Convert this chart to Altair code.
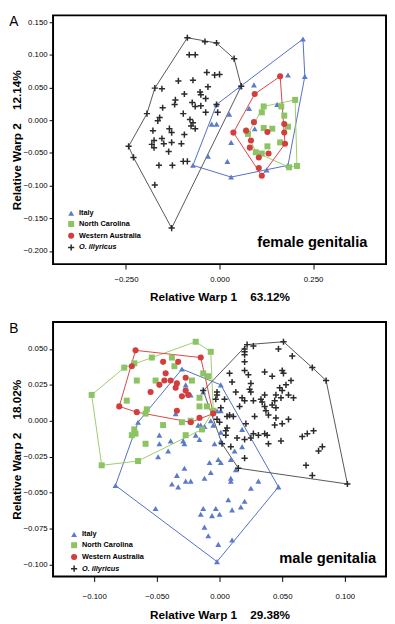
import altair as alt
import pandas as pd

GROUPS = ["Italy", "North Carolina", "Western Australia", "O. illyricus"]
FILLS = ["#5b7bc8", "#8cc463", "#d43d3d", "#2b2b2b"]
HULL_COLORS = ["#4f6fc2", "#9ccd6b", "#d9453f", "#555555"]
CROSS = "M-1,-0.24H-0.24V-1H0.24V-0.24H1V0.24H0.24V1H-0.24V0.24H-1Z"
SHAPES = ["triangle-up", "square", "circle", CROSS]
SIZES = [36, 40, 44, 50]
FONT = "Liberation Sans"

# ---------------- Panel A (female genitalia) ----------------
A_italy_x = [0.223, 0.183, 0.228, 0.092, 0.055, 0.079, 0.154, -0.008, 0.026, -0.021,
             -0.008, 0.094, 0.031, -0.031, 0.021, -0.071, 0.031, 0.126, 0.183]
A_italy_y = [0.124, 0.069, 0.067, 0.054, 0.051, 0.018, 0.024, 0.024, 0.009, -0.006,
             -0.006, -0.013, -0.034, -0.055, -0.063, -0.069, -0.087, -0.076, -0.069]
A_italy_hull = [0, 7, 15, 16, 18, 2, 0]

A_nc_x = [0.202, 0.118, 0.113, 0.165, 0.173, 0.183, 0.076, 0.118, 0.141, 0.162,
          0.128, 0.097, 0.113, 0.186, 0.207]
A_nc_y = [0.031, 0.021, 0.012, 0.021, 0.007, -0.010, -0.021, -0.012, -0.013, -0.034,
          -0.040, -0.049, -0.051, -0.072, -0.070]
A_nc_hull = [1, 0, 14, 13, 11, 6, 1]

A_wa_x = [0.162, 0.094, 0.037, 0.092, 0.071, 0.084, 0.081, 0.128, 0.173, 0.173,
          0.175, 0.105, 0.131, 0.105, 0.113]
A_wa_y = [0.067, 0.040, -0.019, -0.003, -0.016, -0.031, -0.042, -0.018, -0.006, -0.019,
          -0.036, -0.057, -0.051, -0.073, -0.085]
A_wa_hull = [0, 10, 14, 2, 1, 0]

A_ill_x = [-0.086, -0.039, -0.008, 0.039, -0.081, -0.065, -0.034, -0.013, 0.000, -0.110,
           -0.071, -0.173, -0.154, -0.031, -0.052, -0.050, -0.094, -0.118, -0.120, -0.152,
           -0.037, -0.073, -0.065, -0.050, -0.037, -0.008, -0.005, -0.194, -0.160, -0.165,
           -0.097, -0.079, -0.071, -0.076, -0.065, -0.178, -0.134, -0.128, -0.094, -0.154,
           -0.175, -0.181, -0.175, -0.149, -0.128, -0.102, -0.136, -0.243, -0.230, -0.162,
           -0.126, -0.097, -0.086, -0.173, -0.128, 0.058]
A_ill_y = [0.126, 0.120, 0.118, 0.094, 0.100, 0.100, 0.073, 0.069, 0.070, 0.060,
           0.061, 0.049, 0.048, 0.051, 0.043, 0.039, 0.040, 0.031, 0.024, 0.019,
           0.033, 0.027, 0.021, 0.022, 0.012, 0.024, 0.012, 0.010, 0.004, -0.001,
           0.010, 0.001, -0.004, -0.009, -0.013, -0.016, -0.013, -0.019, -0.022, -0.028,
           -0.031, -0.037, -0.042, -0.036, -0.034, -0.036, -0.048, -0.040, -0.057, -0.069,
           -0.069, -0.063, -0.063, -0.099, -0.165, 0.052]
A_ill_hull = [0, 2, 3, 55, 54, 48, 47, 27, 11, 0]

# ---------------- Panel B (male genitalia) ----------------
B_italy_x = [-0.030, 0.001, -0.027, -0.023, -0.013, -0.035, -0.065, -0.017, -0.015, -0.012,
             -0.002, 0.001, -0.007, -0.005, -0.048, -0.039, -0.048, -0.029, -0.028, -0.019,
             -0.016, -0.004, 0.001, -0.049, -0.041, -0.008, -0.001, 0.001, 0.009, 0.013,
             0.018, 0.012, 0.009, 0.009, -0.012, -0.007, -0.028, -0.034, -0.038, -0.033,
             -0.027, -0.023, 0.031, 0.025, 0.047, 0.007, 0.020, 0.017, 0.010, -0.003,
             -0.013, -0.015, -0.006, 0.000, -0.051, -0.012, -0.009, -0.001, 0.010, -0.002,
             -0.083, 0.001, 0.018]
B_italy_y = [0.036, 0.025, 0.025, 0.018, 0.020, 0.005, -0.001, -0.003, -0.003, -0.004,
             0.007, 0.007, 0.000, -0.003, -0.010, -0.014, -0.016, -0.014, -0.016, -0.010,
             -0.013, -0.016, -0.014, -0.025, -0.021, -0.029, -0.027, -0.029, -0.027, -0.034,
             -0.018, -0.021, -0.040, -0.042, -0.040, -0.036, -0.033, -0.038, -0.044, -0.046,
             -0.042, -0.042, -0.042, -0.047, -0.046, -0.055, -0.056, -0.060, -0.062, -0.061,
             -0.061, -0.065, -0.066, -0.065, -0.061, -0.074, -0.080, -0.086, -0.083, -0.098,
             -0.045, -0.008, -0.006]
B_italy_hull = [0, 1, 44, 59, 60, 6, 0]

B_nc_x = [-0.102, -0.076, -0.068, -0.054, -0.019, -0.007, -0.038, -0.036, -0.066, -0.051,
          -0.022, -0.013, -0.009, -0.074, -0.058, -0.016, -0.016, -0.010, -0.005, -0.059,
          -0.045, -0.068, -0.067, -0.070, -0.030, -0.023, -0.027, -0.059, -0.014, -0.065,
          -0.094]
B_nc_y = [0.018, 0.037, 0.040, 0.044, 0.055, 0.048, 0.044, 0.038, 0.028, 0.028,
          0.028, 0.033, 0.031, 0.014, 0.008, 0.016, 0.010, 0.010, 0.007, 0.005,
          -0.003, -0.006, -0.009, -0.010, -0.001, 0.000, -0.010, -0.016, -0.006, -0.028,
          -0.031]
B_nc_hull = [0, 1, 4, 5, 18, 28, 29, 30, 0]

B_wa_x = [-0.067, -0.070, -0.045, -0.033, -0.015, -0.043, -0.044, -0.039, -0.034, -0.027,
          -0.048, -0.035, -0.055, -0.027, -0.030, -0.025, -0.080, -0.066, -0.034, -0.016,
          -0.023, -0.005]
B_wa_y = [0.049, 0.038, 0.041, 0.041, 0.044, 0.033, 0.028, 0.028, 0.026, 0.030,
          0.025, 0.023, 0.020, 0.021, 0.017, 0.018, 0.010, 0.006, 0.007, 0.002,
          -0.001, 0.005]
B_wa_hull = [0, 4, 21, 20, 17, 16, 0]

B_ill_x = [0.022, 0.051, 0.020, 0.020, 0.027, 0.047, 0.058, 0.020, 0.020, 0.074,
           0.085, 0.020, 0.036, 0.042, 0.050, 0.051, 0.008, 0.023, 0.057, 0.010,
           0.025, 0.024, 0.025, 0.048, 0.050, 0.053, 0.013, 0.036, 0.045, 0.055,
           0.059, 0.049, 0.018, 0.020, -0.002, -0.002, -0.003, 0.004, 0.033, 0.034,
           0.027, 0.044, 0.016, 0.036, 0.037, 0.042, 0.045, 0.001, 0.008, 0.006,
           0.028, 0.011, -0.002, 0.000, 0.039, 0.045, 0.055, 0.021, 0.044, 0.050,
           0.006, 0.005, 0.005, 0.027, 0.031, 0.036, 0.038, 0.014, 0.025, 0.020,
           0.066, 0.070, 0.075, 0.039, 0.049, 0.002, 0.079, 0.082, 0.020, 0.069,
           0.074, 0.015, 0.102, -0.013, 0.009]
B_ill_y = [0.053, 0.055, 0.050, 0.048, 0.052, 0.050, 0.045, 0.046, 0.041, 0.037,
           0.028, 0.035, 0.034, 0.031, 0.035, 0.033, 0.033, 0.032, 0.028, 0.027,
           0.026, 0.022, 0.020, 0.023, 0.021, 0.025, 0.020, 0.018, 0.018, 0.018,
           0.016, 0.016, 0.016, 0.014, 0.020, 0.018, 0.015, 0.015, 0.015, 0.013,
           0.014, 0.014, 0.010, 0.010, 0.007, 0.011, 0.009, 0.009, 0.004, 0.003,
           0.003, 0.003, 0.001, -0.001, 0.004, 0.002, 0.001, -0.002, -0.003, -0.002,
           -0.005, -0.007, -0.010, -0.009, -0.010, -0.009, -0.010, -0.012, -0.012, -0.013,
           -0.011, -0.009, -0.007, -0.016, -0.014, -0.016, -0.021, -0.018, -0.026, -0.031,
           -0.038, -0.033, -0.044, 0.021, -0.018]
B_ill_hull = [0, 1, 9, 10, 82, 81, 75, 83, 0]

A_x_ticks = [-0.25, 0.0, 0.25]
A_y_ticks = [0.15, 0.10, 0.05, 0.0, -0.05, -0.10, -0.15, -0.20]
B_x_ticks = [-0.10, -0.05, 0.0, 0.05, 0.10]
B_y_ticks = [0.050, 0.025, 0.0, -0.025, -0.050, -0.075, -0.100]

NB = "\u00a0"


def build_frames(groups_data):
    pts, hull = [], []
    for g, (xs, ys, hidx) in zip(GROUPS, groups_data):
        for x, y in zip(xs, ys):
            pts.append({"group": g, "x": x, "y": y})
        for k, i in enumerate(hidx):
            hull.append({"group": g, "k": k, "x": xs[i], "y": ys[i]})
    return pd.DataFrame(pts), pd.DataFrame(hull)


def panel(groups_data, xdom, ydom, xticks, yticks, xtitle, ytitle, h,
          xlp, xtp, legx, legy, note, notex, notey, letter):
    pts, hull = build_frames(groups_data)
    xs = alt.Scale(domain=xdom, nice=False, zero=False)
    ys = alt.Scale(domain=ydom, nice=False, zero=False)
    xaxis = alt.Axis(values=xticks, format=".3f", title=xtitle, tickSize=5,
                     labelPadding=xlp, titlePadding=xtp)
    yaxis = alt.Axis(values=yticks, format=".3f", title=ytitle, tickSize=4,
                     labelPadding=2, titlePadding=0)
    leg = alt.Legend(orient="none", legendX=legx, legendY=legy, title=None,
                     labelFont=FONT, labelFontSize=7.5, labelFontWeight="bold",
                     labelColor="black", labelOffset=4, rowPadding=-2, padding=0,
                     symbolSize=64, symbolOpacity=1,
                     labelFontStyle={"expr": "datum.label == 'O. illyricus' ? 'italic' : 'normal'"})
    lines = alt.Chart(hull).mark_line(strokeWidth=1).encode(
        x=alt.X("x:Q", scale=xs, axis=xaxis),
        y=alt.Y("y:Q", scale=ys, axis=yaxis),
        stroke=alt.Stroke("group:N", scale=alt.Scale(domain=GROUPS, range=HULL_COLORS), legend=None),
        order=alt.Order("k:Q"),
    )
    points = alt.Chart(pts).mark_point(filled=True, opacity=1).encode(
        x=alt.X("x:Q", scale=xs, axis=xaxis),
        y=alt.Y("y:Q", scale=ys, axis=yaxis),
        color=alt.Color("group:N", scale=alt.Scale(domain=GROUPS, range=FILLS), legend=leg),
        shape=alt.Shape("group:N", scale=alt.Scale(domain=GROUPS, range=SHAPES), legend=leg),
        size=alt.Size("group:N", scale=alt.Scale(domain=GROUPS, range=SIZES), legend=None),
    )
    note_mark = alt.Chart(pd.DataFrame({"t": [note]})).mark_text(
        align="right", baseline="middle", font=FONT, fontSize=15, fontWeight="bold",
        color="black").encode(text="t:N", x=alt.value(notex), y=alt.value(notey))
    letter_mark = alt.Chart(pd.DataFrame({"t": [letter]})).mark_text(
        align="center", baseline="top", font=FONT, fontSize=14, color="black"
    ).encode(text="t:N", x=alt.value(-40), y=alt.value(0))
    return alt.layer(lines, points, note_mark, letter_mark).resolve_scale(
        color="independent", shape="independent", size="independent",
        stroke="independent").properties(width=340, height=h)


panelA = panel(
    [(A_italy_x, A_italy_y, A_italy_hull), (A_nc_x, A_nc_y, A_nc_hull),
     (A_wa_x, A_wa_y, A_wa_hull), (A_ill_x, A_ill_y, A_ill_hull)],
    [-0.445, 0.445], [-0.2201, 0.1602], A_x_ticks, A_y_ticks,
    "Relative Warp 1" + NB * 4 + "63.12%", "Relative Warp 2" + NB * 4 + "12.14%",
    254, 7, 8, 14.5, 198, "female genitalia", 321, 231, "A")

panelB = panel(
    [(B_italy_x, B_italy_y, B_italy_hull), (B_nc_x, B_nc_y, B_nc_hull),
     (B_wa_x, B_wa_y, B_wa_hull), (B_ill_x, B_ill_y, B_ill_hull)],
    [-0.1328, 0.1328], [-0.1084, 0.0688], B_x_ticks, B_y_ticks,
    "Relative Warp 1" + NB * 4 + "29.38%", "Relative Warp 2" + NB * 4 + "18.02%",
    260, 11, 10, 17.5, 213, "male genitalia", 330, 241, "B")

chart = alt.vconcat(panelA, panelB, spacing=18).resolve_scale(
    x="independent", y="independent", color="independent", shape="independent",
    size="independent", stroke="independent").resolve_legend(
    color="independent", shape="independent").properties(
    padding={"left": 0, "top": 0, "right": 0, "bottom": 0},
    background="white"
).configure_view(stroke="black", strokeWidth=2).configure_axis(
    grid=False, domain=False, tickColor="black", labelColor="black", titleColor="black",
    labelFont=FONT, titleFont=FONT, labelFontSize=8, titleFontSize=12,
    titleFontWeight="bold"
)

chart.save("out.html", embed_options={"renderer": "svg", "actions": False})
